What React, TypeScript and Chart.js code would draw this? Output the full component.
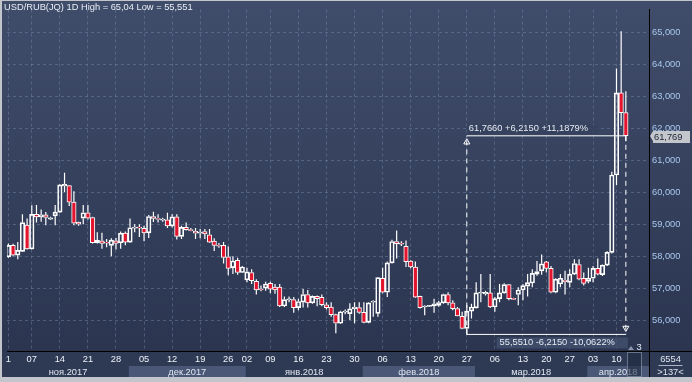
import React, { useEffect, useRef } from "react";
import { Chart, registerables } from "chart.js";

Chart.register(...registerables);

// ---- data (daily candles, USD/RUB) ----
const opens = [57.98,58.34,58.03,58.15,58.97,58.23,59.31,59.23,59.29,59.16,
 59.26,59.38,60.20,60.21,59.69,59.07,59.19,59.36,59.21,58.42,
 58.48,58.44,58.34,58.48,58.42,58.72,58.44,58.88,58.91,58.87,
 58.73,59.24,59.18,59.13,59.14,58.95,59.23,58.62,58.90,58.83,
 58.78,58.72,58.77,58.67,58.47,58.34,58.34,57.98,57.64,57.87,
 57.49,57.26,57.49,57.21,56.98,57.00,57.15,57.03,57.03,56.44,
 56.63,56.64,56.39,56.56,56.80,56.54,56.74,56.71,56.48,56.41,
 56.17,55.90,56.25,56.20,56.35,56.39,56.24,55.93,56.56,56.21,
 57.31,56.87,57.79,58.46,58.41,58.31,57.85,57.66,56.74,56.41,
 56.44,56.44,56.46,56.54,56.80,56.54,56.36,56.12,55.74,56.28,
 56.38,56.84,56.82,56.85,56.41,56.67,56.85,57.11,56.68,56.80,
 56.94,57.06,57.16,57.44,57.54,57.82,57.62,56.87,57.13,57.25,
 57.18,57.44,57.74,57.31,57.21,57.31,57.62,57.42,57.72,58.12,
 60.54,63.11,62.49];
const highs = [58.40,58.39,58.44,59.31,59.18,59.59,59.60,59.46,59.38,59.23,
 59.60,60.25,60.61,60.23,60.03,59.08,59.60,59.60,59.23,58.75,
 58.73,58.54,58.56,58.57,58.77,58.77,59.18,59.00,59.00,58.95,
 59.29,59.39,59.31,59.20,59.36,59.31,59.31,58.95,59.05,58.88,
 58.88,58.85,58.85,58.85,58.56,58.41,58.44,58.30,58.00,57.95,
 57.69,57.64,57.59,57.28,57.08,57.20,57.20,57.13,57.13,56.74,
 56.74,56.72,56.67,56.97,56.94,56.77,56.77,56.80,56.56,56.56,
 56.20,56.29,56.33,56.53,56.56,56.56,56.56,56.56,56.62,57.35,
 57.64,57.83,58.51,58.80,58.47,58.49,57.87,57.83,56.76,56.46,
 56.47,56.67,56.60,56.82,56.87,56.62,56.41,56.26,56.46,56.51,
 57.18,57.44,56.92,57.44,56.72,57.13,57.15,57.13,56.70,57.03,
 57.13,57.44,57.59,57.85,58.05,57.85,57.69,57.31,57.44,57.54,
 57.59,57.90,57.90,57.49,57.64,57.69,57.93,57.74,58.15,60.64,
 63.87,65.04,63.16];
const lows = [57.95,58.00,57.90,58.13,58.21,58.21,59.05,59.08,58.97,59.14,
 58.97,59.36,60.00,59.57,58.97,58.95,59.00,59.15,58.40,58.40,
 58.23,58.28,58.00,58.21,58.23,58.34,58.42,58.75,58.60,58.47,
 58.57,59.07,59.05,59.08,58.88,58.90,58.52,58.54,58.80,58.78,
 58.54,58.56,58.54,58.42,58.16,58.26,57.77,57.40,57.44,57.42,
 57.47,57.18,57.13,56.80,56.90,56.92,56.84,56.82,56.41,56.41,
 56.56,56.23,56.31,56.39,56.39,56.51,56.43,56.43,56.33,56.10,
 55.59,55.88,56.18,56.00,55.90,56.20,55.90,55.90,56.10,56.10,
 56.84,56.72,57.77,57.93,58.32,57.66,57.62,56.70,56.36,56.15,
 56.42,56.23,56.42,56.51,56.46,56.31,56.12,55.71,55.551,56.05,
 56.36,56.56,56.77,56.38,56.26,56.56,56.82,56.62,56.63,56.46,
 56.62,56.74,57.03,57.39,57.42,57.49,56.84,56.84,57.03,56.80,
 57.03,57.42,57.25,57.08,57.15,57.18,57.40,57.38,57.69,58.08,
 60.23,62.08,61.60];
const closes = [58.34,58.03,58.18,59.05,58.23,59.31,59.23,59.29,59.21,59.20,
 59.38,60.23,60.25,59.69,59.03,59.00,59.36,59.19,58.42,58.50,
 58.40,58.41,58.50,58.40,58.72,58.44,58.89,58.91,58.88,58.73,
 59.24,59.18,59.15,59.16,58.95,59.23,58.62,58.90,58.83,58.80,
 58.72,58.75,58.70,58.44,58.34,58.31,57.96,57.62,57.85,57.49,
 57.66,57.51,57.23,56.94,56.95,57.13,56.97,56.94,56.44,56.64,
 56.66,56.39,56.58,56.80,56.54,56.74,56.67,56.48,56.39,56.17,
 55.90,56.26,56.28,56.35,56.41,56.24,55.93,56.54,56.59,57.33,
 56.87,57.79,58.46,58.39,58.38,57.83,57.66,56.72,56.39,56.44,
 56.45,56.51,56.55,56.80,56.54,56.36,56.13,55.74,56.28,56.41,
 56.85,56.87,56.87,56.41,56.67,56.85,57.11,56.67,56.65,56.94,
 57.08,57.17,57.46,57.52,57.76,57.62,56.87,57.28,57.31,57.20,
 57.44,57.77,57.28,57.15,57.31,57.62,57.44,57.72,58.12,60.54,
 63.11,62.49,61.769];

const dayTickIndex = [0,5,11,17,23,29,35,41,47,51,56,62,68,74,80,86,92,98,104,110,115,120,125,130];
const dayTickLabels = ["1","07","14","21","28","05","12","19","26","02","09","16","23","30","06","13","20","27","06","13","20","27","03","10"];
const monthStartIndex = [0,26,51,76,100,124];
const monthLabels = ["ноя.2017","дек.2017","янв.2018","фев.2018","мар.2018","апр.2018"];
const yTicks = [56,57,58,59,60,61,62,63,64,65];

const rangeStart = { index: 98, value: 55.551 };
const rangeEnd = { index: 132, value: 61.766 };
const lastPrice = 61.769;
const titleText = "USD/RUB(JQ) 1D High = 65,04 Low = 55,551";
const barsTotal = "6554";
const barsVisible = ">137<";
const scrollCount = "3";

const X_MIN = -0.3;
const X_MAX = 136.95;
const Y_MIN = 55.032;
const Y_MAX = 65.717;

const FONT = '"Liberation Sans", Arial, sans-serif';
const FS = 9.3;
const GRID = "rgba(125,145,180,0.42)";
const RED = "#e3142d";

const fmt = (v: number, d: number) => v.toFixed(d).replace(".", ",");

export default function App() {
  const ref = useRef<HTMLCanvasElement>(null);

  useEffect(() => {
    document.body.style.margin = "0";
    const canvas = ref.current!;
    const idx = opens.map((_, i) => i);
    const bodies = idx.map((i) => {
      const lo = Math.min(opens[i], closes[i]);
      const hi = Math.max(opens[i], closes[i]);
      const mid = (lo + hi) / 2;
      return { x: i, y: hi - lo < 0.03 ? [mid - 0.016, mid + 0.016] : [lo, hi] };
    });
    const upper = idx.map((i) => ({ x: i, y: [Math.max(opens[i], closes[i]), highs[i]] }));
    const lower = idx.map((i) => ({ x: i, y: [lows[i], Math.min(opens[i], closes[i])] }));

    const monthBounds = monthStartIndex.map((v) => v - 0.25);
    const monthCenters = monthBounds.map((b, i) => {
      const e = i + 1 < monthBounds.length ? monthBounds[i + 1] : X_MAX;
      return (b + e) / 2;
    });

    const pct = ((rangeEnd.value - rangeStart.value) / rangeStart.value) * 100;
    const pctDown = ((rangeStart.value - rangeEnd.value) / rangeEnd.value) * 100;
    const diff = rangeEnd.value - rangeStart.value;
    const topText = `${fmt(rangeEnd.value, 4)} +${fmt(diff, 4)} +${fmt(pct, 4)}%`;
    const bottomText = `${fmt(rangeStart.value, 4)} -${fmt(diff, 4)} ${fmt(pctDown, 4)}%`;

    const bgPlugin = {
      id: "bg",
      beforeDraw(chart: any) {
        const { ctx, chartArea: ca, width, height } = chart;
        ctx.save();
        const g = ctx.createLinearGradient(0, 0, 0, ca.bottom);
        g.addColorStop(0, "#404d6a");
        g.addColorStop(1, "#2b3550");
        ctx.fillStyle = g;
        ctx.fillRect(0, 0, width, ca.bottom);
        ctx.fillStyle = "#2e3954";
        ctx.fillRect(0, ca.bottom, width, height - ca.bottom);
        const xs = chart.scales.x;
        const x2 = chart.scales.x2;
        ctx.fillStyle = "#4a5777";
        monthBounds.forEach((b, i) => {
          if (i % 2 === 1) {
            const l = Math.max(ca.left, xs.getPixelForValue(b));
            const r = i + 1 < monthBounds.length ? xs.getPixelForValue(monthBounds[i + 1]) : ca.right;
            ctx.fillRect(l, x2.top + 2, r - l, x2.bottom - x2.top - 2);
          }
        });
        ctx.restore();
      },
      afterDraw(chart: any) {
        const { ctx, chartArea: ca, width, height } = chart;
        const xs = chart.scales.x;
        const ys = chart.scales.y;
        ctx.save();
        ctx.strokeStyle = "#000";
        ctx.lineWidth = 1;
        ctx.beginPath();
        ctx.moveTo(Math.round(ca.right) + 0.5, ca.bottom);
        ctx.lineTo(Math.round(ca.right) + 0.5, height);
        ctx.moveTo(ca.right, Math.round(ca.bottom) + 0.5);
        ctx.lineTo(width, Math.round(ca.bottom) + 0.5);
        ctx.stroke();

        ctx.font = `${FS}px ${FONT}`;
        ctx.fillStyle = "#e9eef6";
        ctx.textBaseline = "middle";
        ctx.textAlign = "left";
        ctx.fillText(titleText, 2, 6.5);

        const xL = xs.getPixelForValue(rangeStart.index);
        const xR = xs.getPixelForValue(rangeEnd.index);
        const yT = ys.getPixelForValue(rangeEnd.value);
        const yB = ys.getPixelForValue(rangeStart.value);
        const tw = ctx.measureText(topText).width;
        ctx.fillStyle = "rgba(52,64,92,0.75)";
        ctx.fillRect(xL, yT - 11, tw + 12, 9);
        ctx.fillStyle = "#e6ebf3";
        ctx.fillText(topText, xL + 2, yT - 7);
        const bw = ctx.measureText(bottomText).width;
        ctx.fillStyle = "rgba(66,80,110,0.8)";
        ctx.fillRect(xR - bw - 14, yB + 3, bw + 16, 11);
        ctx.fillStyle = "#e6ebf3";
        ctx.textAlign = "right";
        ctx.fillText(bottomText, xR - 11, yB + 8.5);

        const yP = Math.round(ys.getPixelForValue(lastPrice));
        const bx = ca.right + 4;
        ctx.fillStyle = "#c3c6cb";
        ctx.beginPath();
        ctx.moveTo(ca.right + 1, yP);
        ctx.lineTo(bx, yP - 5);
        ctx.lineTo(width - 2, yP - 5);
        ctx.lineTo(width - 2, yP + 7);
        ctx.lineTo(bx, yP + 7);
        ctx.lineTo(bx, yP + 5);
        ctx.closePath();
        ctx.fill();
        ctx.fillStyle = "#1c2436";
        ctx.textAlign = "left";
        ctx.fillText(fmt(lastPrice, 3), bx + 1, yP + 1);

        const cx = (ca.right + width) / 2;
        ctx.textAlign = "center";
        ctx.fillStyle = "#dfe5ef";
        ctx.fillText(barsTotal, cx, ca.bottom + 8.5);
        ctx.strokeStyle = "#aab4c6";
        ctx.beginPath();
        ctx.moveTo(cx - 12, ca.bottom + 14.5);
        ctx.lineTo(cx + 12, ca.bottom + 14.5);
        ctx.stroke();
        ctx.fillText(barsVisible, cx, ca.bottom + 21.5);

        const sx = ca.right - 22;
        ctx.fillStyle = "rgba(30,40,62,0.55)";
        ctx.fillRect(sx, ca.bottom + 1, 14, height - ca.bottom - 1);
        ctx.strokeStyle = "rgba(150,160,180,0.6)";
        ctx.strokeRect(sx + 0.5, ca.bottom + 1.5, 14, height - ca.bottom - 2);
        ctx.fillStyle = "#8c96aa";
        ctx.beginPath();
        ctx.moveTo(sx + 1, ca.bottom - 1);
        ctx.lineTo(sx + 4, ca.bottom - 5);
        ctx.lineTo(sx + 7, ca.bottom - 1);
        ctx.closePath();
        ctx.fill();
        ctx.fillStyle = "#e6ebf3";
        ctx.fillText(scrollCount, sx + 12, ca.bottom - 4);
        ctx.restore();
      },
    };

    const chart = new Chart(canvas, {
      type: "bar",
      data: {
        datasets: [
          {
            type: "line",
            data: [{ x: rangeStart.index, y: rangeEnd.value }, { x: rangeEnd.index, y: rangeEnd.value }],
            borderColor: "#ffffff", borderWidth: 1, pointRadius: 0, order: 0,
          } as any,
          {
            type: "line",
            data: [{ x: rangeStart.index, y: rangeStart.value }, { x: rangeEnd.index, y: rangeStart.value }],
            borderColor: "#ffffff", borderWidth: 1, pointRadius: 0, order: 0,
          } as any,
          {
            type: "line",
            data: [{ x: rangeStart.index, y: rangeStart.value }, { x: rangeStart.index, y: rangeEnd.value }],
            borderColor: "#ffffff", borderWidth: 1, borderDash: [5, 4], pointRadius: 0, order: 0,
          } as any,
          {
            type: "line",
            data: [{ x: rangeEnd.index, y: rangeEnd.value }, { x: rangeEnd.index, y: rangeStart.value }],
            borderColor: "#ffffff", borderWidth: 1, borderDash: [5, 4], pointRadius: 0, order: 0,
          } as any,
          {
            type: "line",
            showLine: false,
            data: [{ x: rangeStart.index, y: rangeEnd.value - 0.2 }, { x: rangeEnd.index, y: rangeStart.value + 0.2 }],
            pointStyle: "triangle",
            pointRadius: 3.5,
            rotation: [0, 180],
            pointBorderColor: "#ffffff",
            pointBackgroundColor: "rgba(0,0,0,0)",
            pointBorderWidth: 1,
            order: 0,
          } as any,
          {
            data: bodies as any,
            backgroundColor: idx.map((i) => (closes[i] < opens[i] ? RED : "rgba(0,0,0,0)")),
            borderColor: "#ffffff",
            borderWidth: 1,
            borderSkipped: false,
            barThickness: 4.5,
            grouped: false,
            order: 1,
          } as any,
          {
            data: upper as any,
            backgroundColor: "#ffffff",
            borderWidth: 0,
            barThickness: 1.2,
            inflateAmount: 0,
            grouped: false,
            order: 2,
          } as any,
          {
            data: lower as any,
            backgroundColor: "#ffffff",
            borderWidth: 0,
            barThickness: 1.2,
            inflateAmount: 0,
            grouped: false,
            order: 2,
          } as any,
        ],
      },
      options: {
        responsive: false,
        animation: false,
        devicePixelRatio: 1,
        layout: { padding: 0 },
        plugins: { legend: { display: false }, tooltip: { enabled: false }, title: { display: false } },
        scales: {
          x: {
            type: "linear",
            position: "bottom",
            offset: false,
            min: X_MIN,
            max: X_MAX,
            weight: 0,
            afterFit: (s: any) => { s.height = 13; },
            afterBuildTicks: (s: any) => { s.ticks = dayTickIndex.map((v) => ({ value: v })); },
            ticks: {
              autoSkip: false, maxRotation: 0, minRotation: 0, padding: 3,
              color: "#eef2f8", font: { family: FONT, size: FS },
              callback: (_v: any, i: number) => dayTickLabels[i],
            },
            grid: { color: GRID, drawTicks: false, lineWidth: 1, offset: false },
            border: { display: true, color: "#000000", width: 1, dash: [3, 3] },
          },
          x2: {
            type: "linear",
            position: "bottom",
            offset: false,
            min: X_MIN,
            max: X_MAX,
            weight: 1,
            afterFit: (s: any) => { s.height = 13; },
            afterBuildTicks: (s: any) => { s.ticks = monthCenters.map((v) => ({ value: v })); },
            ticks: {
              autoSkip: false, maxRotation: 0, minRotation: 0, padding: 3,
              color: "#e2e8f1", font: { family: FONT, size: FS },
              callback: (_v: any, i: number) => monthLabels[i],
            },
            grid: { display: false, drawTicks: false, offset: false },
            border: { display: false },
          },
          y: {
            type: "linear",
            position: "right",
            min: Y_MIN,
            max: Y_MAX,
            afterFit: (s: any) => { s.width = 43; },
            afterBuildTicks: (s: any) => { s.ticks = yTicks.map((v) => ({ value: v })); },
            ticks: {
              padding: 3, color: "#a9c8ee", font: { family: FONT, size: FS },
              callback: (v: any) => fmt(Number(v), 3),
            },
            grid: { color: GRID, drawTicks: false, lineWidth: 1 },
            border: { display: true, color: "#000000", width: 1, dash: [3, 3] },
          },
        },
      } as any,
      plugins: [bgPlugin],
    });
    return () => chart.destroy();
  }, []);

  return (
    <div style={{ position: "relative", width: 692, height: 382, background: "#c2c6cc" }}>
      <canvas ref={ref} width={690} height={376} style={{ position: "absolute", left: 2, top: 1, width: 690, height: 376 }} />
    </div>
  );
}
